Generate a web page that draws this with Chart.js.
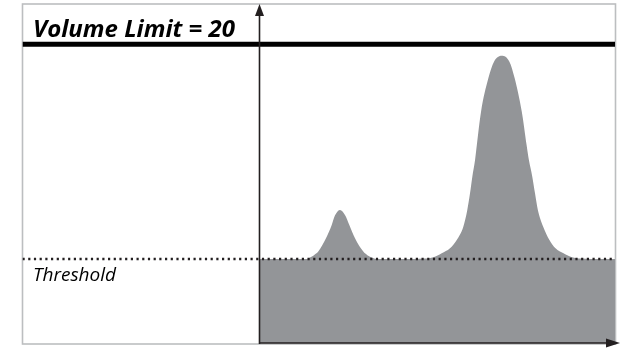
<!DOCTYPE html>
<html>
<head>
<meta charset="utf-8">
<script src="https://cdn.jsdelivr.net/npm/chart.js@4.4.1/dist/chart.umd.min.js"></script>
<style>
  html, body { margin: 0; padding: 0; background: #fff; }
  #wrap { width: 624px; height: 348px; position: relative; }
</style>
</head>
<body>
<div id="wrap"><canvas id="volume"></canvas></div>
<script>
const canvas = document.getElementById("volume");

// values (x in arbitrary time units, y in volume units)
const volumeX = [0, 6, 8.0, 8.52, 9.2, 9.92, 11.22, 12.19, 12.75, 13.59,
  14.45, 15.16, 16.12, 17.52, 18.2, 18.93, 19.6, 21, 26,
  27.93, 29.34, 30.75, 32.15, 33.29, 34.40, 35.07, 35.53, 35.92, 36.38,
  36.68, 37.39, 38.62, 39.58, 40.88,
  42.18, 43.07, 44.27, 45.08, 45.47, 46.04, 46.5, 46.98, 47.88, 48.93,
  49.96, 51.31, 52.77, 54.22, 56, 60];
const volumeY = [5.62, 5.62, 5.63, 5.72, 5.88, 6.12, 7.01, 7.90, 8.55, 8.91,
  8.55, 7.90, 7.01, 6.12, 5.88, 5.72, 5.63, 5.62, 5.62,
  5.65, 5.74, 6.01, 6.34, 6.90, 7.79, 8.91, 10.02, 11.14, 12.25,
  13.26, 15.49, 17.72, 18.84, 19.24,
  18.84, 17.72, 15.49, 13.26, 12.25, 11.14, 10.02, 8.91, 7.79, 6.90,
  6.34, 6.01, 5.74, 5.65, 5.62, 5.62];

const volumeLimit = 20;
const threshold = 5.62;
const xRange = [-40, 60]; // y axis sits at x = 0
const yRange = [0, 22.7];

const limitLabel = "Volume Limit = 20";
const thresholdLabel = "Threshold";

const ink = "#231f20";

new Chart(canvas, {
  type: "line",
  data: {
    datasets: [
      {
        // dotted threshold line
        data: xRange.map((x) => ({ x: x, y: threshold })),
        borderColor: ink,
        borderWidth: 2.4,
        borderDash: [2.2, 3.5],
        pointRadius: 0,
        fill: false,
        order: 0,
      },
      {
        // thick volume limit line
        data: xRange.map((x) => ({ x: x, y: volumeLimit })),
        borderColor: "#000",
        borderWidth: 5,
        pointRadius: 0,
        fill: false,
        order: 1,
      },
      {
        // volume area
        data: volumeX.map((x, i) => ({ x: x, y: volumeY[i] })),
        borderWidth: 0,
        borderColor: "#939598",
        backgroundColor: "#939598",
        pointRadius: 0,
        cubicInterpolationMode: "monotone",
        fill: "origin",
        order: 2,
      },
    ],
  },
  options: {
    responsive: true,
    maintainAspectRatio: false,
    animation: false,
    layout: { padding: { left: 22.5, right: 9, top: 4, bottom: 5 } },
    scales: {
      x: { type: "linear", min: xRange[0], max: xRange[1], display: false },
      y: { type: "linear", min: yRange[0], max: yRange[1], display: false },
    },
    plugins: {
      legend: { display: false },
      tooltip: { enabled: false },
    },
  },
  plugins: [
    {
      id: "frame",
      beforeDatasetsDraw(chart) {
        const ctx = chart.ctx;
        const a = chart.chartArea;
        ctx.save();
        ctx.strokeStyle = "#bcbec0";
        ctx.lineWidth = 1.6;
        ctx.strokeRect(a.left, a.top, a.right - a.left + 0.5, a.bottom - a.top + 1);
        ctx.restore();
      },
      afterDatasetsDraw(chart) {
        const ctx = chart.ctx;
        const a = chart.chartArea;
        const x0 = chart.scales.x.getPixelForValue(0);
        const y0 = a.bottom;
        ctx.save();
        ctx.strokeStyle = ink;
        ctx.fillStyle = ink;
        ctx.lineWidth = 1.6;
        // y axis
        ctx.beginPath();
        ctx.moveTo(x0, y0 + 1);
        ctx.lineTo(x0, a.top + 8);
        ctx.stroke();
        ctx.beginPath();
        ctx.moveTo(x0, a.top);
        ctx.lineTo(x0 - 4.5, a.top + 12);
        ctx.lineTo(x0 + 4.5, a.top + 12);
        ctx.closePath();
        ctx.fill();
        // x axis
        ctx.beginPath();
        ctx.moveTo(x0, y0);
        ctx.lineTo(a.right - 4, y0);
        ctx.stroke();
        ctx.beginPath();
        ctx.moveTo(a.right + 5, y0);
        ctx.lineTo(a.right - 9, y0 - 4.5);
        ctx.lineTo(a.right - 9, y0 + 4.5);
        ctx.closePath();
        ctx.fill();
        // labels
        ctx.fillStyle = "#000";
        ctx.textAlign = "left";
        ctx.textBaseline = "alphabetic";
        ctx.font = "italic bold 24px 'Open Sans'";
        ctx.fillText(limitLabel, a.left + 10.5, 37);
        ctx.font = "italic 19px 'Open Sans'";
        ctx.fillText(thresholdLabel, a.left + 10.5, 281);
        ctx.restore();
      },
    },
  ],
});
</script>
</body>
</html>
